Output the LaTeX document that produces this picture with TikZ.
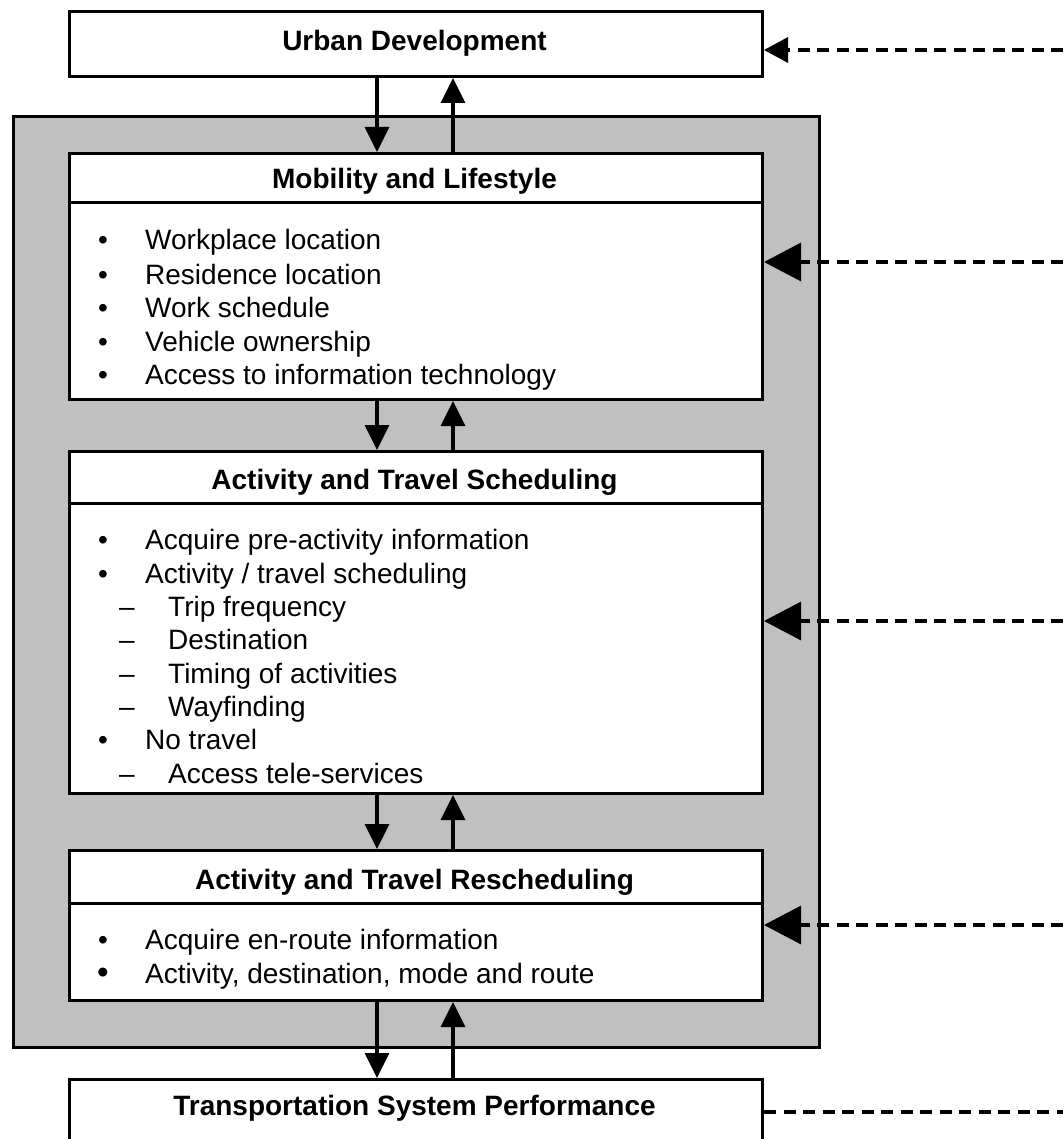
\documentclass[tikz,border=0pt]{standalone}
\usepackage{fontspec}
\setmainfont{Liberation Sans}
\usetikzlibrary{arrows.meta}
\definecolor{panelgray}{RGB}{192,192,192}

\begin{document}
\begin{tikzpicture}[x=1pt,y=-1pt,
  panel/.style={draw, line width=3pt, fill=panelgray, inner sep=0pt, anchor=north west},
  box/.style={draw, line width=3pt, fill=white, inner sep=0pt, minimum width=693pt, anchor=north west},
  ttl/.style={font=\fontsize{28}{32}\selectfont\bfseries, text height=20pt, text depth=0pt, inner sep=0pt},
  item/.style={font=\fontsize{28}{32}\selectfont, anchor=west, text height=20pt, text depth=0pt, inner sep=0pt},
  sym/.style={font=\fontsize{28}{32}\selectfont, text height=20pt, text depth=0pt, inner sep=0pt},
  rule/.style={line width=3pt},
  flow/.style={line width=3.5pt, -{Triangle[length=25pt,width=24pt]}},
  dashline/.style={line width=3.3pt, dash pattern=on 12pt off 7.5pt},
  feed/.style={dashline, -{Triangle[length=37pt,width=38pt]}},
  feedsmall/.style={dashline, -{Triangle[length=24pt,width=25pt]}}
]
\useasboundingbox (0,0) rectangle (1063,1139);
\clip (0,0) rectangle (1063,1139);

% grey frame around the three behavioural layers
\node[panel, minimum width=806pt, minimum height=931pt] (frame) at (12,115) {};

% boxes
\node[box, minimum height=65pt]  (ud)  at (68,10)   {};
\node[box, minimum height=246pt] (ml)  at (68,152)  {};
\node[box, minimum height=342pt] (ats) at (68,450)  {};
\node[box, minimum height=150pt] (atr) at (68,849)  {};
\node[box, minimum height=110pt] (tsp) at (68,1078) {};

% header rules
\draw[rule] (68,203) -- (761,203);
\draw[rule] (68,503) -- (761,503);
\draw[rule] (68,903) -- (761,903);

% titles
\node[ttl] (tud)  at (414.5,41)   {Urban Development};
\node[ttl] (tml)  at (414.5,179)  {Mobility and Lifestyle};
\node[ttl] (tats) at (414.5,479)  {Activity and Travel Scheduling};
\node[ttl] (tatr) at (414.5,879)  {Activity and Travel Rescheduling};
\node[ttl] (ttsp) at (414.5,1105) {Transportation System Performance};

% Mobility and Lifestyle
\node[sym] (b1) at (103,240) {•}; \node[item] (i1) at (145,240) {Workplace location};
\node[sym] (b2) at (103,274) {•}; \node[item] (i2) at (145,274) {Residence location};
\node[sym] (b3) at (103,307) {•}; \node[item] (i3) at (145,307) {Work schedule};
\node[sym] (b4) at (103,341) {•}; \node[item] (i4) at (145,341) {Vehicle ownership};
\node[sym] (b5) at (103,374) {•}; \node[item] (i5) at (145,374) {Access to information technology};

% Activity and Travel Scheduling
\node[sym] (c1) at (103,539) {•}; \node[item] (j1) at (145,539) {Acquire pre-activity information};
\node[sym] (c2) at (103,573) {•}; \node[item] (j2) at (145,573) {Activity / travel scheduling};
\node[sym] (c3) at (127,606) {–}; \node[item] (j3) at (168,606) {Trip frequency};
\node[sym] (c4) at (127,639) {–}; \node[item] (j4) at (168,639) {Destination};
\node[sym] (c5) at (127,673) {–}; \node[item] (j5) at (168,673) {Timing of activities};
\node[sym] (c6) at (127,706) {–}; \node[item] (j6) at (168,706) {Wayfinding};
\node[sym] (c7) at (103,739) {•}; \node[item] (j7) at (145,739) {No travel};
\node[sym] (c8) at (127,773) {–}; \node[item] (j8) at (168,773) {Access tele-services};

% Activity and Travel Rescheduling
\node[sym] (d1) at (103,939) {•}; \node[item] (k1) at (145,939) {Acquire en-route information};
\node[sym, font=\fontsize{33}{36}\selectfont] (d2) at (103,973) {•}; \node[item] (k2) at (145,973) {Activity, destination, mode and route};

% two-way links between the layers
\coordinate (dnx) at (377,0);
\coordinate (upx) at (453,0);
\draw[flow] (ud.south -| dnx)  -- (ml.north -| dnx);
\draw[flow] (ml.north -| upx)  -- (ud.south -| upx);
\draw[flow] (ml.south -| dnx)  -- (ats.north -| dnx);
\draw[flow] (ats.north -| upx) -- (ml.south -| upx);
\draw[flow] (ats.south -| dnx) -- (atr.north -| dnx);
\draw[flow] (atr.north -| upx) -- (ats.south -| upx);
\draw[flow] (atr.south -| dnx) -- (tsp.north -| dnx);
\draw[flow] (tsp.north -| upx) -- (atr.south -| upx);

% dashed feedback from the right
\coordinate (fud)  at (1063,50);
\coordinate (fml)  at (1063,262);
\coordinate (fats) at (1063,621);
\coordinate (fatr) at (1063,925);
\coordinate (ftsp) at (1063,1112);
\draw[feedsmall] (fud)  -- (ud.east |- fud);
\draw[feed]      (fml)  -- (ml.east |- fml);
\draw[feed]      (fats) -- (ats.east |- fats);
\draw[feed]      (fatr) -- (atr.east |- fatr);
\draw[dashline]  (tsp.east |- ftsp) -- (ftsp);
\end{tikzpicture}
\end{document}
